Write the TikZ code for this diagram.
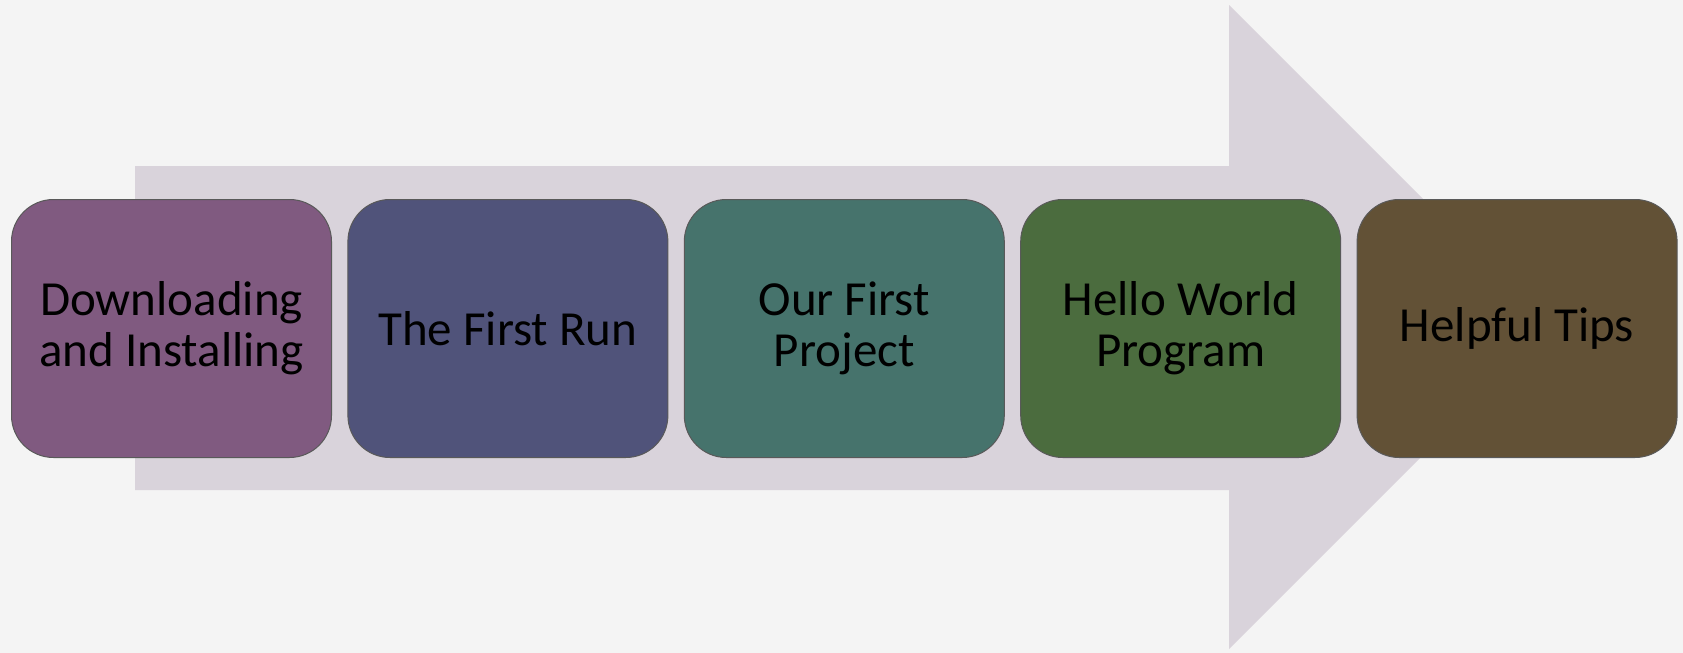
\documentclass[tikz,border=0pt]{standalone}
\usepackage{fontspec}
\setmainfont{Carlito}
\usetikzlibrary{positioning}
\definecolor{bgcol}{RGB}{244,244,244}
\definecolor{arrowcol}{RGB}{217,211,219}
\definecolor{stepA}{RGB}{128,90,128}
\definecolor{stepB}{RGB}{80,83,122}
\definecolor{stepC}{RGB}{70,115,108}
\definecolor{stepD}{RGB}{75,108,62}
\definecolor{stepE}{RGB}{98,81,54}
\begin{document}
\begin{tikzpicture}[x=0.5pt,y=-0.5pt,
		stage/.style={draw=black!65,line width=.5pt,rounded corners=21pt,minimum width=160pt,minimum height=129pt,align=center,inner sep=0pt,
			font=\fontsize{24.5}{25.5}\selectfont,text=black},
		node distance=7.7pt]
		\fill[bgcol] (0,0) rectangle (1683,653);
		\useasboundingbox (0,0) rectangle (1683,653);
		
		% big arrow behind
		\fill[arrowcol] (135,166) -- (1229,166) -- (1229,5) -- (1551,327) -- (1229,649) -- (1229,490) -- (135,490) -- cycle;
		
		\node[stage,fill=stepA,anchor=north west] (dl) at (11,199) {Downloading\\and Installing};
		\node[stage,fill=stepB,right=of dl] (run) {The First Run};
		\node[stage,fill=stepC,right=of run] (proj) {Our First\\Project};
		\node[stage,fill=stepD,right=of proj] (hello) {Hello World\\Program};
		\node[stage,fill=stepE,right=of hello] (tips) {Helpful Tips};
		\end{tikzpicture}
\end{document}
